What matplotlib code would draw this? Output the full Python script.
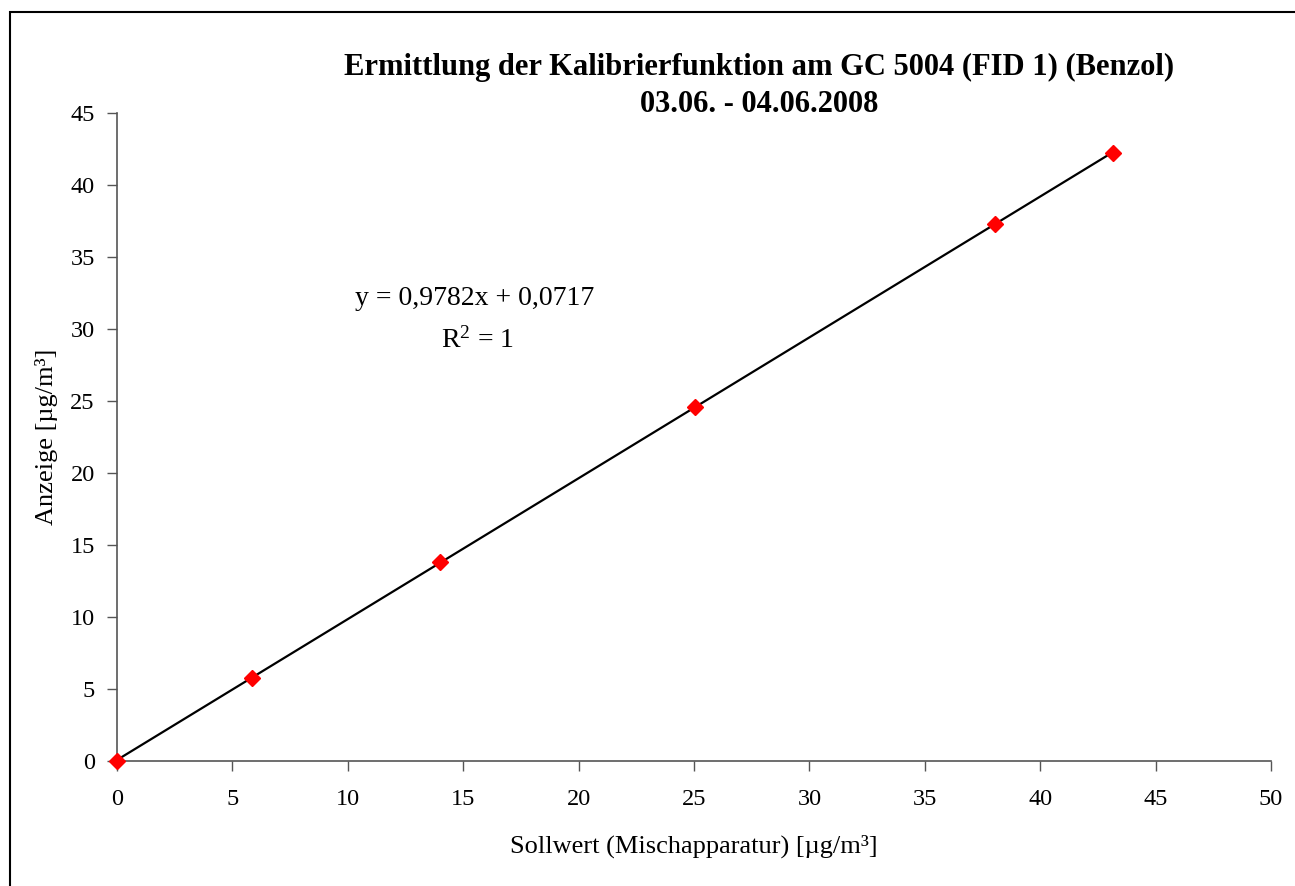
import matplotlib
matplotlib.use("Agg")
import matplotlib.pyplot as plt
from matplotlib.patches import Rectangle
import numpy as np

plt.rcParams['font.family'] = ['Liberation Serif', 'DejaVu Serif']
plt.rcParams['mathtext.fontset'] = 'custom'
plt.rcParams['mathtext.rm'] = 'Liberation Serif'
plt.rcParams['mathtext.it'] = 'Liberation Serif:italic'

# Calibration points: nominal value (mixing apparatus) vs. GC reading
sollwert = [0.0, 5.85, 14.0, 25.05, 38.05, 43.15]
anzeige = [0.0, 5.75, 13.85, 24.6, 37.3, 42.25]

# Linear calibration function
slope = 0.9782
intercept = 0.0717
r_squared = 1

x_ticks = [0, 5, 10, 15, 20, 25, 30, 35, 40, 45, 50]
y_ticks = [0, 5, 10, 15, 20, 25, 30, 35, 40, 45]

title_lines = ["Ermittlung der Kalibrierfunktion am GC 5004 (FID 1) (Benzol)",
               "03.06. - 04.06.2008"]
x_label = "Sollwert (Mischapparatur) [µg/m³]"
y_label = "Anzeige [µg/m³]"

fig = plt.figure(figsize=(12.95, 8.86), dpi=100)
ax = fig.add_axes([117 / 1295, 1 - 761 / 886, (1271 - 117) / 1295, (761 - 113) / 886])

# Outer chart frame (left and top edges visible)
fig.patches.append(Rectangle((10 / 1295, -0.1), 1.2, 1 - 12 / 886 + 0.1,
                             transform=fig.transFigure, fill=False,
                             edgecolor='black', linewidth=1.5))

# Trend line over the measured range
xl = np.array([min(sollwert), max(sollwert)])
ax.plot(xl, slope * xl + intercept, color='black', linewidth=1.6, zorder=2)

# Measured points
ax.plot(sollwert, anzeige, linestyle='none', marker='D', markersize=8,
        color='#ff0000', markeredgecolor='#ff0000', zorder=3, clip_on=False)

ax.set_xlim(0, 50)
ax.set_ylim(0, 45)
ax.set_xticks(x_ticks)
ax.set_yticks(y_ticks)
ax.tick_params(axis='both', labelsize=17.5, direction='out', length=7,
               width=1, color='#555555', pad=9)
ax.tick_params(axis='x', pad=13)

for side in ('top', 'right'):
    ax.spines[side].set_visible(False)
for side in ('left', 'bottom'):
    ax.spines[side].set_color('#555555')
    ax.spines[side].set_linewidth(1.2)

ax.set_xlabel(x_label, fontsize=19, labelpad=18)
ax.set_ylabel(y_label, fontsize=19, labelpad=9)

fig.text(759 / 1295, 1 - 67 / 886, title_lines[0], ha='center', va='center',
         fontsize=22, fontweight='bold')
fig.text(759 / 1295, 1 - 104 / 886, title_lines[1], ha='center', va='center',
         fontsize=22, fontweight='bold')

eq = "y = " + f"{slope:.4f}".replace('.', ',') + "x + " + f"{intercept:.4f}".replace('.', ',')
ax.text(15.5, 32.1, eq, ha='center', va='center', fontsize=20)
ax.text(15.6, 29.2, r"R$^{2}$ = " + str(r_squared), ha='center', va='center', fontsize=20)

fig.savefig("out.png", dpi=100)
